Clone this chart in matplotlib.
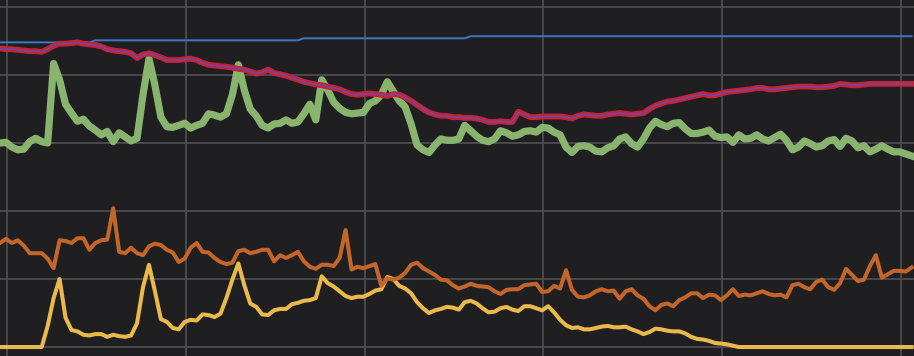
import matplotlib
matplotlib.use("Agg")
import matplotlib.pyplot as plt
import numpy as np

# sample index (one sample every 2 minutes, grid line every hour = 30 samples)
n_samples = 154

total = [44.8, 44.8, 44.8, 44.8, 44.8, 44.8, 44.8, 44.8, 44.8, 44.8,
         44.8, 44.8, 44.8, 44.8, 44.8, 44.8, 45.1, 45.1, 45.1, 45.1,
         45.1, 45.1, 45.1, 45.1, 45.1, 45.1, 45.1, 45.1, 45.1, 45.1,
         45.1, 45.1, 45.1, 45.1, 45.1, 45.1, 45.1, 45.1, 45.1, 45.1,
         45.1, 45.1, 45.1, 45.1, 45.1, 45.1, 45.1, 45.1, 45.1, 45.1,
         45.1, 45.4, 45.4, 45.4, 45.4, 45.4, 45.4, 45.4, 45.4, 45.4,
         45.4, 45.4, 45.4, 45.4, 45.4, 45.4, 45.4, 45.4, 45.4, 45.4,
         45.4, 45.4, 45.4, 45.4, 45.4, 45.4, 45.4, 45.4, 45.4, 45.7,
         45.7, 45.7, 45.7, 45.7, 45.7, 45.7, 45.7, 45.7, 45.7, 45.7,
         45.7, 45.7, 45.7, 45.7, 45.7, 45.7, 45.7, 45.7, 45.7, 45.7,
         45.7, 45.7, 45.7, 45.7, 45.7, 45.7, 45.7, 45.7, 45.7, 45.7,
         45.7, 45.7, 45.7, 45.7, 45.7, 45.7, 45.7, 45.7, 45.7, 45.7,
         45.7, 45.7, 45.7, 45.7, 45.7, 45.7, 45.7, 45.7, 45.7, 45.7,
         45.7, 45.7, 45.7, 45.7, 45.7, 45.7, 45.7, 45.7, 45.7, 45.7,
         45.7, 45.7, 45.7, 45.7, 45.7, 45.7, 45.7, 45.7, 45.7, 45.7,
         45.7, 45.7, 45.7, 45.7]

average = [43.9, 43.8, 43.8, 43.7, 43.6, 43.5, 43.5, 43.4, 43.8, 44.3,
           44.6, 44.6, 44.7, 44.8, 44.6, 44.5, 44.4, 44.2, 43.8, 43.6,
           43.5, 43.4, 43.2, 42.5, 43.0, 43.2, 42.9, 42.6, 42.2, 42.2,
           42.2, 42.3, 42.4, 42.2, 41.8, 41.5, 41.4, 41.3, 41.2, 41.1,
           40.9, 40.8, 40.5, 40.2, 40.4, 40.8, 40.3, 40.1, 39.9, 39.6,
           39.3, 39.0, 38.8, 38.6, 38.5, 38.3, 38.1, 37.9, 37.5, 37.2,
           37.1, 37.2, 37.3, 37.2, 37.1, 36.9, 37.2, 37.1, 36.7, 36.2,
           35.6, 35.0, 34.5, 34.2, 34.0, 34.0, 33.8, 33.8, 33.7, 33.7,
           33.6, 33.4, 33.1, 33.1, 33.2, 33.1, 33.1, 34.6, 34.2, 33.8,
           33.8, 33.9, 33.9, 33.9, 33.9, 33.8, 33.6, 34.0, 34.2, 34.1,
           34.0, 34.0, 34.2, 34.3, 34.4, 34.3, 34.2, 34.3, 34.4, 35.0,
           35.5, 35.8, 36.1, 36.2, 36.4, 36.6, 36.8, 37.0, 37.2, 37.0,
           37.0, 37.3, 37.5, 37.6, 37.7, 37.8, 37.9, 38.1, 38.1, 37.9,
           37.9, 38.0, 38.1, 38.2, 38.3, 38.3, 38.3, 38.2, 38.2, 38.3,
           38.4, 38.7, 38.6, 38.5, 38.5, 38.6, 38.7, 38.7, 38.7, 38.7,
           38.7, 38.7, 38.7, 38.7]

green = [30.0, 30.1, 29.4, 29.0, 29.1, 30.2, 30.7, 30.2, 30.0, 41.7,
         39.3, 35.7, 34.4, 33.2, 33.5, 32.5, 31.9, 31.2, 31.7, 30.2,
         31.5, 30.9, 30.3, 30.7, 37.1, 42.4, 38.5, 33.8, 32.4, 32.3,
         32.6, 32.9, 32.2, 32.6, 32.9, 34.3, 34.1, 33.8, 34.3, 37.1,
         41.5, 37.8, 35.0, 34.0, 32.6, 32.2, 32.8, 32.9, 33.4, 32.9,
         33.1, 34.3, 35.7, 33.4, 39.3, 37.8, 36.0, 35.1, 34.5, 34.3,
         34.4, 34.5, 35.8, 36.2, 37.1, 39.0, 37.6, 36.2, 35.3, 32.8,
         29.7, 29.0, 28.6, 29.7, 30.6, 30.4, 30.4, 30.6, 32.6, 31.8,
         31.0, 30.4, 30.2, 30.6, 31.8, 31.5, 31.0, 31.2, 31.7, 31.8,
         31.6, 32.3, 32.2, 31.6, 31.2, 29.4, 28.6, 29.5, 29.6, 29.4,
         28.8, 28.7, 29.3, 29.6, 30.6, 30.9, 29.9, 29.4, 30.6, 32.2,
         33.2, 32.7, 32.4, 32.9, 33.0, 32.1, 31.4, 31.4, 31.6, 31.9,
         31.0, 30.8, 30.9, 30.1, 31.2, 30.6, 30.7, 31.2, 30.6, 30.3,
         30.8, 31.3, 30.4, 29.0, 29.4, 30.3, 29.9, 29.4, 29.6, 30.3,
         30.5, 29.5, 30.7, 30.3, 29.3, 29.6, 28.7, 29.1, 29.6, 29.1,
         28.7, 28.7, 28.4, 28.1]

orange = [15.3, 15.9, 15.3, 15.7, 14.9, 13.8, 13.8, 13.8, 13.0, 11.6,
          15.7, 15.6, 15.3, 16.0, 16.0, 14.3, 15.3, 15.7, 15.8, 20.4,
          14.0, 13.8, 14.6, 13.8, 13.5, 14.8, 15.2, 15.0, 14.3, 13.9,
          12.5, 13.0, 14.6, 15.3, 14.0, 13.9, 13.1, 12.5, 12.2, 12.4,
          14.1, 14.3, 13.8, 14.0, 14.3, 14.3, 12.6, 13.5, 13.1, 13.5,
          14.0, 12.6, 11.8, 11.5, 12.1, 12.1, 11.9, 13.1, 17.2, 11.4,
          11.8, 11.6, 11.9, 12.2, 9.0, 10.1, 9.9, 10.2, 10.9, 12.1,
          12.4, 11.6, 11.1, 10.6, 9.9, 9.8, 9.1, 8.6, 8.9, 9.3,
          9.0, 8.9, 8.8, 8.2, 7.8, 8.4, 8.5, 8.5, 9.1, 9.2,
          9.3, 8.1, 8.2, 9.0, 8.6, 11.3, 8.4, 7.4, 7.3, 7.6,
          8.2, 8.5, 8.2, 8.3, 7.1, 8.2, 8.5, 7.6, 7.1, 6.0,
          5.4, 6.2, 6.4, 6.0, 6.9, 7.3, 7.9, 7.9, 7.2, 7.7,
          7.6, 6.9, 7.6, 8.5, 7.5, 7.7, 7.6, 7.9, 8.2, 7.8,
          7.6, 7.7, 7.3, 9.1, 9.3, 8.8, 8.5, 9.6, 9.9, 8.8,
          8.4, 9.4, 11.5, 10.6, 9.7, 9.9, 11.9, 13.5, 10.2, 10.7,
          11.2, 11.2, 11.1, 11.7]

yellow = [0.0, 0.0, 0.0, 0.0, 0.0, 0.0, 0.0, 0.0, 3.1, 7.2,
          10.0, 4.3, 2.5, 2.3, 1.8, 1.7, 1.9, 1.9, 1.5, 1.8,
          1.6, 1.5, 1.7, 3.5, 8.8, 12.1, 8.2, 4.1, 3.7, 2.8,
          2.6, 3.7, 4.0, 3.9, 4.8, 4.7, 4.4, 4.9, 7.2, 9.9,
          12.3, 9.1, 6.4, 5.9, 4.8, 4.7, 5.4, 5.6, 5.6, 6.3,
          6.5, 6.8, 6.9, 7.2, 10.4, 9.4, 8.9, 8.2, 7.5, 7.2,
          7.4, 7.4, 7.8, 8.3, 8.5, 10.3, 10.0, 9.0, 8.6, 7.9,
          6.6, 5.7, 5.0, 5.4, 5.6, 5.9, 5.8, 5.5, 6.6, 6.8,
          6.4, 5.7, 5.1, 5.2, 5.7, 5.9, 5.5, 5.3, 6.0, 6.0,
          5.7, 5.4, 6.0, 5.1, 4.0, 3.2, 2.8, 2.9, 2.6, 2.6,
          2.8, 3.0, 3.1, 2.9, 2.9, 3.0, 2.6, 2.3, 1.9, 2.2,
          2.7, 2.6, 2.4, 2.3, 2.3, 2.0, 1.5, 1.2, 1.1, 0.9,
          0.6, 0.5, 0.4, 0.2, 0.0, 0.0, 0.0, 0.0, 0.0, 0.0,
          0.0, 0.0, 0.0, 0.0, 0.0, 0.0, 0.0, 0.0, 0.0, 0.0,
          0.0, 0.0, 0.0, 0.0, 0.0, 0.0, 0.0, 0.0, 0.0, 0.0,
          0.0, 0.0, 0.0, 0.0]

x_ticks = [1.2, 31.2, 61.2, 91.2, 121.2, 151.2]
y_ticks = [0, 10, 20, 30, 40, 50]

x = np.arange(n_samples)

fig = plt.figure(figsize=(9.14, 3.56), dpi=100)
fig.patch.set_facecolor("#1f1f21")
ax = fig.add_axes([0, 0, 1, 1])
ax.set_facecolor("#1f1f21")

ax.plot(x, yellow, color="#e9b94c", lw=2.9, solid_joinstyle="round", zorder=3)
ax.plot(x, orange, color="#c4652a", lw=2.9, solid_joinstyle="round", zorder=4)
ax.plot(x, green, color="#88b46e", lw=5.2, solid_joinstyle="round", zorder=5)
ax.plot(x, total, color="#3b78c8", lw=1.4, zorder=6)
ax.plot(x, average, color="#c8232b", lw=4.2, solid_joinstyle="round", zorder=7)
ax.plot(x, average, color="#7e409f", lw=1.4, solid_joinstyle="round", zorder=8)

ax.set_xlim(0, 153.4)
ax.set_ylim(-1.32, 51.03)
ax.set_xticks(x_ticks)
ax.set_yticks(y_ticks)
ax.grid(True, color="#4d4d51", lw=1.3, zorder=0)
ax.set_axisbelow(True)
ax.tick_params(length=0, labelbottom=False, labelleft=False)
for s in ax.spines.values():
    s.set_visible(False)

fig.savefig("out.png", dpi=100, facecolor=fig.get_facecolor())
